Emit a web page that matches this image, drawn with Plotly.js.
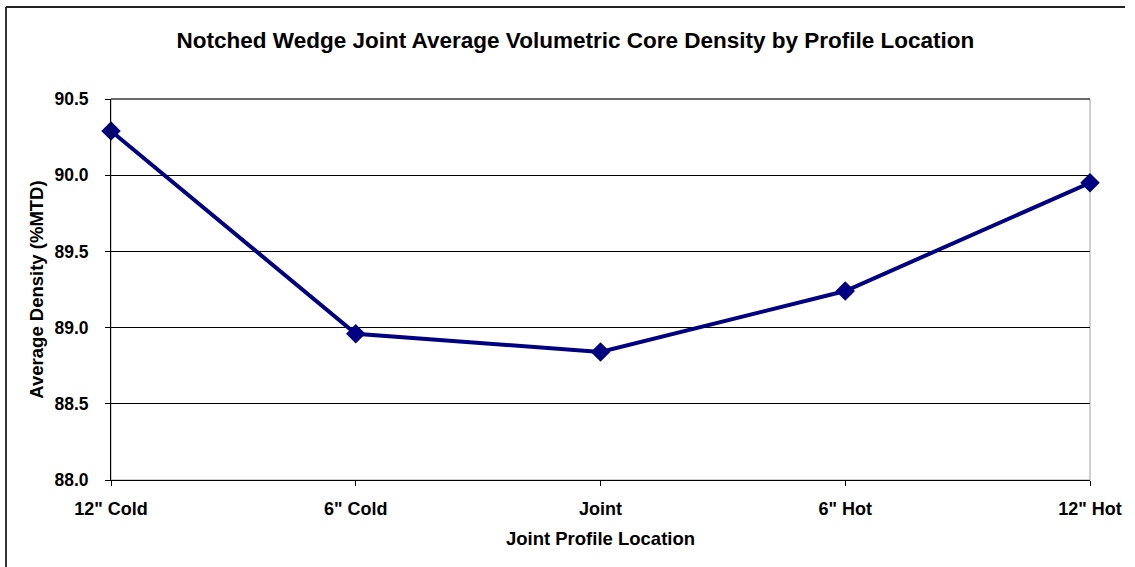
<!DOCTYPE html>
<html>
<head>
<meta charset="utf-8">
<script src="https://cdn.plot.ly/plotly-3.0.1.min.js"></script>
<style>
  html, body { margin: 0; padding: 0; background: #fff; }
  #chart { width: 1135px; height: 567px; }
</style>
</head>
<body>
<div id="chart"></div>
<script>
const categories = ['12" Cold', '6" Cold', 'Joint', '6" Hot', '12" Hot'];
const density = [90.29, 88.96, 88.84, 89.24, 89.95];
const yTickVals = [88.0, 88.5, 89.0, 89.5, 90.0, 90.5];
const yTickText = ['88.0', '88.5', '89.0', '89.5', '90.0', '90.5'];

const FONT = 'Liberation Sans, Arial, sans-serif';

const trace = {
  x: categories,
  y: density,
  type: 'scatter',
  mode: 'lines+markers',
  line: { color: '#000080', width: 4 },
  marker: { symbol: 'diamond', size: 15, color: '#000080' },
  cliponaxis: false,
  hoverinfo: 'x+y'
};

const layout = {
  width: 1135,
  height: 567,
  margin: { l: 111, r: 45, t: 99, b: 87 },
  paper_bgcolor: '#ffffff',
  plot_bgcolor: '#ffffff',
  showlegend: false,
  font: { family: FONT, color: '#000', size: 18 },
  title: {
    text: '<b>Notched Wedge Joint Average Volumetric Core Density by Profile Location</b>',
    font: { family: FONT, size: 22.5, color: '#000' },
    x: 0.507, xref: 'container', xanchor: 'center',
    y: 0.93, yref: 'container', yanchor: 'middle'
  },
  xaxis: {
    type: 'category',
    range: [0, 4],
    showgrid: false,
    zeroline: false,
    showline: true,
    linecolor: '#000',
    linewidth: 1,
    ticks: 'outside',
    ticklen: 5,
    tickcolor: '#000',
    ticklabelstandoff: 7,
    tickfont: { family: FONT, size: 18, color: '#000', weight: 'bold' },
    title: {
      text: '<b>Joint Profile Location</b>',
      font: { family: FONT, size: 18.5, color: '#000' },
      standoff: 14
    }
  },
  yaxis: {
    range: [88.0, 90.5],
    tickvals: yTickVals,
    ticktext: yTickText,
    showgrid: true,
    gridcolor: '#000',
    gridwidth: 1,
    zeroline: false,
    showline: true,
    linecolor: '#000',
    linewidth: 1,
    ticks: 'outside',
    ticklen: 5,
    tickcolor: '#000',
    ticklabelstandoff: 13,
    tickfont: { family: FONT, size: 17.5, color: '#000', weight: 'bold' },
    title: {
      text: '<b>Average Density (%MTD)</b>',
      font: { family: FONT, size: 18.5, color: '#000' },
      standoff: 5
    }
  },
  shapes: [
    { type: 'rect', xref: 'paper', yref: 'paper', x0: 0, x1: 1, y0: 0, y1: 1,
      line: { color: '#a0a0a0', width: 1 }, layer: 'below' },
    { type: 'line', xref: 'paper', yref: 'paper', x0: 0, x1: 1, y0: 1, y1: 1,
      line: { color: '#000', width: 1 }, layer: 'below' },
    { type: 'line', xref: 'paper', yref: 'paper',
      x0: (6 - 111) / 979, x1: (6 - 111) / 979, y0: (480 - 7) / 381, y1: (480 - 600) / 381,
      line: { color: '#333', width: 2 } },
    { type: 'line', xref: 'paper', yref: 'paper',
      x0: (6 - 111) / 979, x1: (1125 - 111) / 979, y0: (480 - 7) / 381, y1: (480 - 7) / 381,
      line: { color: '#222', width: 2 } }
  ]
};

Plotly.newPlot('chart', [trace], layout, { displayModeBar: false, staticPlot: true });
</script>
</body>
</html>
